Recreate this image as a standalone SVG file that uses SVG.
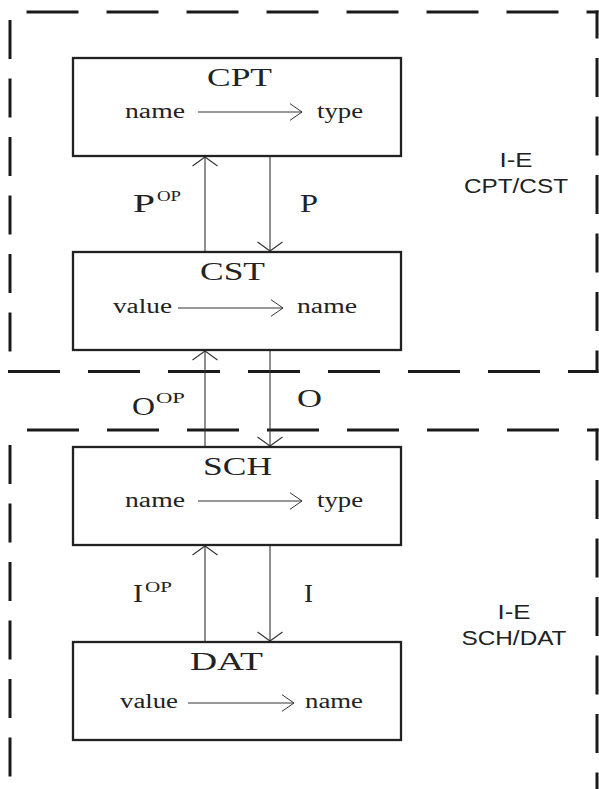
<svg xmlns="http://www.w3.org/2000/svg" width="599" height="789" viewBox="0 0 599 789">
<style>
.bg{fill:#fff}
.box{fill:#fff;stroke:#222;stroke-width:2.3}
.dh{fill:none;stroke:#1a1a1a;stroke-width:3;stroke-dasharray:52 28}
.dv{fill:none;stroke:#1a1a1a;stroke-width:3;stroke-dasharray:39 19.5}
.con{fill:none;stroke:#333;stroke-width:1.1}
.inner{fill:none;stroke:#333;stroke-width:1}
.s{font-family:"Liberation Serif","Times New Roman",serif;fill:#222}
.ti{font-size:26px}
.rw{font-size:20px}
.lb{font-size:25px}
.sp{font-size:15px}
.ie{font-family:"Liberation Sans",Arial,sans-serif;font-size:20px;fill:#222;text-anchor:middle}
</style>
<defs>
<marker id="ah" viewBox="-11 -14 13 28" markerWidth="13" markerHeight="28" refX="0" refY="0" orient="auto" markerUnits="userSpaceOnUse">
<path d="M-9,-12.5 L0,0 L-9,12.5" fill="none" stroke="#333" stroke-width="1.1"/>
</marker>
<marker id="ai" viewBox="-14 -10 16 20" markerWidth="16" markerHeight="20" refX="0" refY="0" orient="auto" markerUnits="userSpaceOnUse">
<path d="M-12,-8.3 L0,0 L-12,8.3" fill="none" stroke="#333" stroke-width="1"/>
</marker>
</defs>
<rect class="bg" x="0" y="0" width="599" height="789"/>

<g id="regions">
<line class="dh" x1="26.5" y1="12" x2="598.5" y2="12"/>
<line class="dv" x1="597" y1="10.5" x2="597" y2="373" stroke-dashoffset="11"/>
<line class="dv" x1="10" y1="20" x2="10" y2="372"/>
<line class="dh" x1="8" y1="371.5" x2="598.5" y2="371.5"/>
<line class="dh" x1="27" y1="430" x2="598.5" y2="430"/>
<line class="dv" x1="597" y1="428.5" x2="597" y2="789" stroke-dashoffset="7"/>
<line class="dv" x1="10" y1="445" x2="10" y2="789"/>
</g>

<g id="connectors">
<line class="con" x1="205" y1="252" x2="205" y2="157" marker-end="url(#ah)"/>
<line class="con" x1="270" y1="156" x2="270" y2="251" marker-end="url(#ah)"/>
<line class="con" x1="205" y1="447" x2="205" y2="351" marker-end="url(#ah)"/>
<line class="con" x1="270" y1="350" x2="270" y2="446" marker-end="url(#ah)"/>
<line class="con" x1="205" y1="642" x2="205" y2="546" marker-end="url(#ah)"/>
<line class="con" x1="270" y1="545" x2="270" y2="641" marker-end="url(#ah)"/>
<text class="s lb" x="133" y="212" textLength="22" lengthAdjust="spacingAndGlyphs">P</text>
<text class="s sp" x="157" y="201" textLength="24" lengthAdjust="spacingAndGlyphs">OP</text>
<text class="s lb" x="300" y="212" textLength="18" lengthAdjust="spacingAndGlyphs">P</text>
<text class="s lb" x="132" y="415" textLength="23" lengthAdjust="spacingAndGlyphs">O</text>
<text class="s sp" x="156" y="403" textLength="29" lengthAdjust="spacingAndGlyphs">OP</text>
<text class="s lb" x="297" y="407" textLength="25" lengthAdjust="spacingAndGlyphs">O</text>
<text class="s lb" x="133" y="602" textLength="10" lengthAdjust="spacingAndGlyphs">I</text>
<text class="s sp" x="145" y="592" textLength="27" lengthAdjust="spacingAndGlyphs">OP</text>
<text class="s lb" x="304" y="602" textLength="9" lengthAdjust="spacingAndGlyphs">I</text>
</g>

<g id="CPT">
<rect class="box" x="73" y="58" width="328" height="98"/>
<text class="s ti" x="207" y="86" textLength="65" lengthAdjust="spacingAndGlyphs">CPT</text>
<text class="s rw" x="125" y="118" textLength="60" lengthAdjust="spacingAndGlyphs">name</text>
<line class="inner" x1="198" y1="112" x2="302" y2="112" marker-end="url(#ai)"/>
<text class="s rw" x="317" y="118" textLength="46" lengthAdjust="spacingAndGlyphs">type</text>
</g>

<g id="CST">
<rect class="box" x="73" y="252" width="328" height="98"/>
<text class="s ti" x="200" y="280" textLength="65" lengthAdjust="spacingAndGlyphs">CST</text>
<text class="s rw" x="113" y="313" textLength="59" lengthAdjust="spacingAndGlyphs">value</text>
<line class="inner" x1="178" y1="308" x2="283" y2="308" marker-end="url(#ai)"/>
<text class="s rw" x="297" y="313" textLength="60" lengthAdjust="spacingAndGlyphs">name</text>
</g>

<g id="SCH">
<rect class="box" x="73" y="447" width="328" height="98"/>
<text class="s ti" x="203" y="475" textLength="69" lengthAdjust="spacingAndGlyphs">SCH</text>
<text class="s rw" x="125" y="507" textLength="60" lengthAdjust="spacingAndGlyphs">name</text>
<line class="inner" x1="198" y1="501" x2="302" y2="501" marker-end="url(#ai)"/>
<text class="s rw" x="317" y="507" textLength="46" lengthAdjust="spacingAndGlyphs">type</text>
</g>

<g id="DAT">
<rect class="box" x="73" y="642" width="328" height="98"/>
<text class="s ti" x="190" y="670" textLength="73" lengthAdjust="spacingAndGlyphs">DAT</text>
<text class="s rw" x="120" y="708" textLength="58" lengthAdjust="spacingAndGlyphs">value</text>
<line class="inner" x1="188" y1="703" x2="294" y2="703" marker-end="url(#ai)"/>
<text class="s rw" x="305" y="708" textLength="58" lengthAdjust="spacingAndGlyphs">name</text>
</g>

<g id="IE-top">
<text class="ie" x="516" y="167" textLength="33" lengthAdjust="spacingAndGlyphs">I-E</text>
<text class="ie" x="516" y="193" textLength="104" lengthAdjust="spacingAndGlyphs">CPT/CST</text>
</g>
<g id="IE-bottom">
<text class="ie" x="514" y="619" textLength="33" lengthAdjust="spacingAndGlyphs">I-E</text>
<text class="ie" x="514" y="645" textLength="105" lengthAdjust="spacingAndGlyphs">SCH/DAT</text>
</g>
</svg>
